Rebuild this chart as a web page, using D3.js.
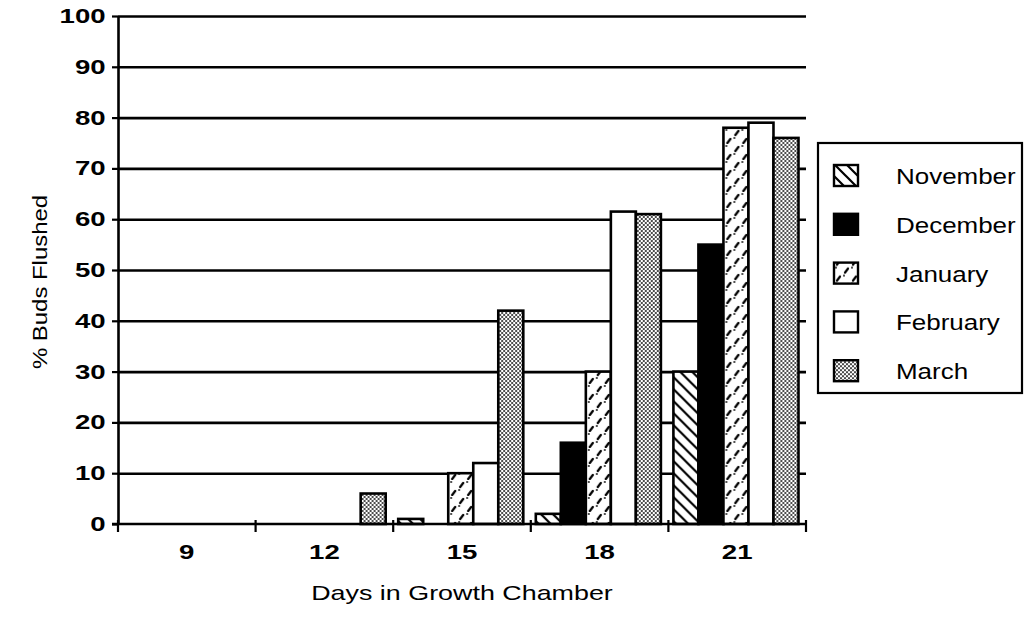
<!DOCTYPE html>
<html>
<head>
<meta charset="utf-8">
<script src="https://cdn.jsdelivr.net/npm/d3@7"></script>
<style>
  html, body { margin: 0; padding: 0; background: #fff; }
  svg { display: block; }
  text { font-family: "Liberation Sans", Arial, Helvetica, sans-serif; fill: #000; }
</style>
</head>
<body>
<svg id="chart" width="1026" height="636"></svg>
<script>
// ---- data ----
const categories = ["9", "12", "15", "18", "21"];
const seriesNames = ["November", "December", "January", "February", "March"];
const november = [0, 0, 1, 2, 30];
const december = [0, 0, 0, 16, 55];
const january  = [0, 0, 10, 30, 78];
const february = [0, 0, 12, 61.5, 79];
const march    = [0, 6, 42, 61, 76];
const yTicks = [0, 10, 20, 30, 40, 50, 60, 70, 80, 90, 100];
const xTitle = "Days in Growth Chamber";
const yTitle = "% Buds Flushed";

const seriesValues = [november, december, january, february, march];

const svg = d3.select("#chart");
const plotL = 118, plotR = 806, plotT = 16, plotB = 524;

const x0 = d3.scaleBand().domain(categories).range([plotL, plotR]).padding(0);
const x1 = d3.scaleBand().domain(seriesNames).range([0, x0.bandwidth()])
  .paddingInner(0).paddingOuter(0.25).align(0.4);
const y = d3.scaleLinear().domain([0, 100]).range([plotB, plotT]);

// ---- patterns ----
const defs = svg.append("defs");
const pNov = defs.append("pattern").attr("id", "pNov").attr("patternUnits", "userSpaceOnUse")
  .attr("width", 12).attr("height", 12);
pNov.append("rect").attr("width", 12).attr("height", 12).attr("fill", "#fff");
pNov.append("path").attr("d", "M0,0 L12,12 M-3,9 L3,15 M9,-3 L15,3")
  .attr("stroke", "#000").attr("stroke-width", 2.2);

const pJan = defs.append("pattern").attr("id", "pJan").attr("patternUnits", "userSpaceOnUse")
  .attr("width", 16).attr("height", 16);
pJan.append("rect").attr("width", 16).attr("height", 16).attr("fill", "#fff");
pJan.append("path").attr("d", "M3,7 L6,3 M11,15 L14,11")
  .attr("stroke", "#000").attr("stroke-width", 2.2).attr("stroke-linecap", "round");
pJan.append("circle").attr("cx", 2).attr("cy", 10).attr("r", 0.9).attr("fill", "#000");
pJan.append("circle").attr("cx", 10).attr("cy", 2).attr("r", 0.9).attr("fill", "#000");

const pMar = defs.append("pattern").attr("id", "pMar").attr("patternUnits", "userSpaceOnUse")
  .attr("width", 4).attr("height", 4);
pMar.append("rect").attr("width", 4).attr("height", 4).attr("fill", "#fff");
pMar.append("circle").attr("cx", 1).attr("cy", 1).attr("r", 0.95).attr("fill", "#000");
pMar.append("circle").attr("cx", 3).attr("cy", 3).attr("r", 0.95).attr("fill", "#000");

const fills = {
  November: "url(#pNov)", December: "#000", January: "url(#pJan)",
  February: "#fff", March: "url(#pMar)"
};

// ---- gridlines ----
svg.append("g").attr("transform", `translate(${plotL},0)`)
  .call(d3.axisLeft(y).tickValues(yTicks.filter(d => d > 0)).tickSize(-(plotR - plotL)).tickFormat(""))
  .call(g => g.select(".domain").remove())
  .call(g => g.selectAll("line").attr("stroke", "#000").attr("stroke-width", 2.6));

// ---- bars ----
const groups = svg.append("g").selectAll("g").data(categories).join("g")
  .attr("transform", d => `translate(${x0(d)},0)`);
groups.selectAll("rect")
  .data((c, i) => seriesNames.map((s, j) => ({ s, v: seriesValues[j][i] })).filter(d => d.v > 0))
  .join("rect")
  .attr("x", d => x1(d.s))
  .attr("width", x1.bandwidth())
  .attr("y", d => y(d.v))
  .attr("height", d => y(0) - y(d.v))
  .attr("fill", d => fills[d.s])
  .attr("stroke", "#000").attr("stroke-width", 2.6);

// ---- y axis ----
const yAxis = svg.append("g").attr("transform", `translate(${plotL},0)`)
  .call(d3.axisLeft(y).tickValues(yTicks).tickSize(6).tickSizeOuter(0).tickPadding(3));
yAxis.select(".domain").attr("stroke-width", 2.6);
yAxis.selectAll("line").attr("stroke-width", 2.2);
yAxis.selectAll("text")
  .attr("font-size", 20).attr("font-weight", "bold")
  .attr("font-family", "'Liberation Sans', Arial, sans-serif")
  .attr("transform", "scale(1.38,1)");

// ---- x axis ----
svg.append("line").attr("x1", plotL - 6).attr("x2", plotR).attr("y1", plotB).attr("y2", plotB)
  .attr("stroke", "#000").attr("stroke-width", 2.6);
const edges = categories.map(c => x0(c)).concat([x0.range()[1]]);
svg.append("g").selectAll("line").data(edges).join("line")
  .attr("x1", d => d).attr("x2", d => d).attr("y1", plotB - 4).attr("y2", plotB + 8)
  .attr("stroke", "#000").attr("stroke-width", 2.2);

const xAxis = svg.append("g").attr("transform", `translate(0,${plotB})`)
  .call(d3.axisBottom(x0).tickSize(0).tickPadding(21));
xAxis.select(".domain").remove();
xAxis.selectAll("text")
  .attr("font-size", 20).attr("font-weight", "bold")
  .attr("font-family", "'Liberation Sans', Arial, sans-serif")
  .attr("transform", "scale(1.38,1)");
xAxis.selectAll(".tick").attr("transform", d => `translate(${x0(d) + x0.bandwidth() / 2},0)`);

// ---- titles ----
svg.append("g").attr("transform", `translate(${(plotL + plotR) / 2},600)`)
  .append("text").attr("text-anchor", "middle").attr("font-size", 21)
  .attr("transform", "scale(1.28,1)").text(xTitle);

svg.append("g").attr("transform", "translate(47,282) rotate(-90)")
  .append("text").attr("text-anchor", "middle").attr("font-size", 21)
  .attr("transform", "scale(1.14,1)").text(yTitle);

// ---- legend ----
const leg = svg.append("g");
leg.append("rect").attr("x", 818).attr("y", 143).attr("width", 204).attr("height", 250)
  .attr("fill", "#fff").attr("stroke", "#000").attr("stroke-width", 2.2);
const li = leg.selectAll("g.item").data(seriesNames).join("g").attr("class", "item")
  .attr("transform", (d, i) => `translate(834,${176 + i * 48.8})`);
li.append("rect").attr("x", 0).attr("y", -11).attr("width", 24).attr("height", 21)
  .attr("fill", d => fills[d]).attr("stroke", "#000").attr("stroke-width", 2.4);
li.append("g").attr("transform", "translate(62,8)")
  .append("text").attr("font-size", 22).attr("transform", "scale(1.18,1)").text(d => d);
</script>
</body>
</html>
